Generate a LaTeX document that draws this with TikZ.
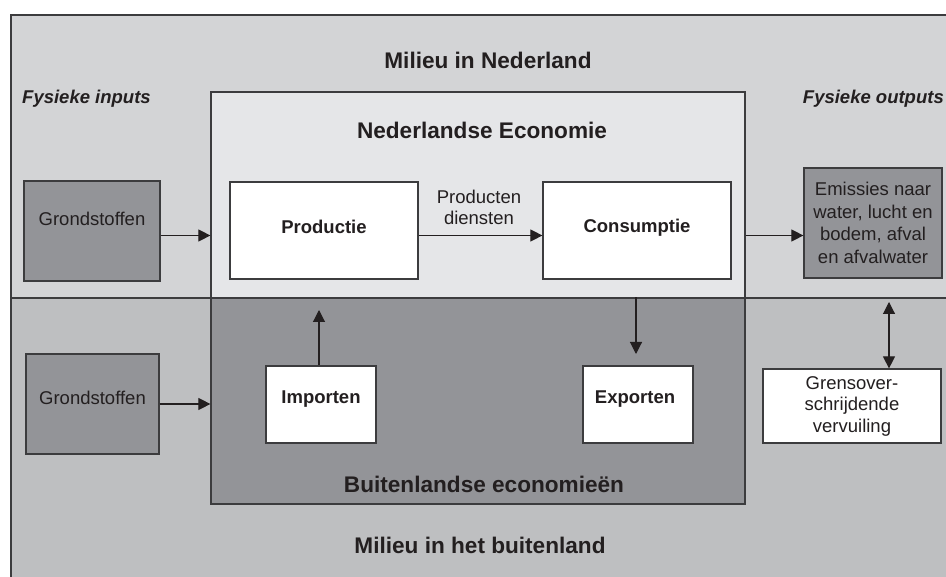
\documentclass[tikz,border=0pt]{standalone}
\usepackage{fontspec}
\setmainfont{Liberation Sans}
\usetikzlibrary{arrows.meta}

\definecolor{envtop}{HTML}{D3D4D6}
\definecolor{envbottom}{HTML}{BEBFC1}
\definecolor{ecolight}{HTML}{E5E6E8}
\definecolor{ecodark}{HTML}{939498}
\definecolor{inkline}{HTML}{3C3C3E}
\definecolor{ink}{HTML}{231F20}

\tikzset{
  title/.style={font=\fontsize{22.6}{24}\selectfont\bfseries, text=ink, anchor=base},
  plain/.style={font=\fontsize{18.5}{21.5}\selectfont, text=ink, align=center, inner sep=0pt},
  heavy/.style={plain, font=\fontsize{18.5}{21.5}\selectfont\bfseries},
  side/.style={plain, font=\fontsize{18.5}{21.5}\selectfont\bfseries\itshape},
  box/.style={draw=inkline, line width=1.2pt, inner sep=0pt},
  darkbox/.style={box, fill=ecodark},
  whitebox/.style={box, fill=white},
  arr/.style={->, draw=ink, line width=1.1pt},
  dbl/.style={<->, draw=ink, line width=1.1pt}
}

\begin{document}
\begin{tikzpicture}[x=1pt, y=-1pt, >={Triangle[length=12pt, width=12pt]}]
  \clip (0,0) rectangle (946,577);
  % the two environments
  \fill[envtop] (11,15) rectangle (960,298);
  \fill[envbottom] (11,298) rectangle (960,590);
  \draw[inkline, line width=1.3pt] (11,590) -- (11,15) -- (960,15);
  \draw[inkline, line width=1.3pt] (11,298) -- (960,298);

  % economies
  \node[box, fill=ecolight, minimum width=534pt, minimum height=206pt] (nlbox) at (478,195) {};
  \node[darkbox, minimum width=534pt, minimum height=206pt] (blbox) at (478,401) {};

  \node[title] (milieunl) at (488,68.3) {Milieu in Nederland};
  \node[title] (econl) at (482,139) {Nederlandse Economie};
  \node[title] (ecobl) at (484,492.7) {Buitenlandse economieën};
  \node[title] (milieubl) at (480,553) {Milieu in het buitenland};
  \node[side, anchor=west] (inputs) at (22,99) {Fysieke inputs};
  \node[side, anchor=east] (outputs) at (944,99) {Fysieke outputs};

  % boxes
  \node[darkbox, minimum width=136pt, minimum height=100pt] (grond1) at (92,231) {};
  \node[plain] (grond1text) at ([yshift=12pt]grond1.center) {Grondstoffen};
  \node[darkbox, minimum width=133pt, minimum height=100pt] (grond2) at (92.5,404) {};
  \node[plain] (grond2text) at ([yshift=6pt]grond2.center) {Grondstoffen};
  \node[whitebox, minimum width=188pt, minimum height=97pt] (prod) at (324,230.5) {};
  \node[heavy] (prodtext) at ([yshift=3.5pt]prod.center) {Productie};
  \node[whitebox, minimum width=188pt, minimum height=97pt] (cons) at (637,230.5) {};
  \node[heavy] (constext) at ([yshift=2.5pt]cons.center) {Consumptie};
  \node[plain] (goods) at (479,207.5) {Producten\\diensten};
  \node[darkbox, minimum width=138pt, minimum height=110pt, plain,
        font=\fontsize{18.5}{22.5}\selectfont] (emis) at (873,223)
    {Emissies naar\\water, lucht en\\bodem, afval\\en afvalwater};
  \node[whitebox, minimum width=110pt, minimum height=77pt] (imp) at (321,404.5) {};
  \node[heavy] (imptext) at ([yshift=5.5pt]imp.center) {Importen};
  \node[whitebox, minimum width=110pt, minimum height=77pt] (exp) at (638,404.5) {};
  \node[heavy] (exptext) at ([yshift=5.5pt, xshift=-3pt]exp.center) {Exporten};
  \node[whitebox, minimum width=178pt, minimum height=74pt, plain] (grens) at (852,406)
    {Grensover-\\schrijdende\\vervuiling};

  % flows
  \coordinate (midrow) at (0,235.5);
  \coordinate (imptip) at (319,310);
  \coordinate (exptip) at (636,354);
  \coordinate (grenstip) at (889,302);
  \draw[arr] (grond1.east |- midrow) -- (nlbox.west |- midrow);
  \draw[arr] (prod.east |- midrow) -- (cons.west |- midrow);
  \draw[arr] (nlbox.east |- midrow) -- (emis.west |- midrow);
  \draw[arr] (grond2.east) -- (grond2.east -| blbox.west);
  \draw[arr] (imp.north -| imptip) -- (imptip);
  \draw[arr] (exptip |- blbox.north) -- (exptip);
  \draw[dbl] (grenstip) -- (grenstip |- grens.north);
\end{tikzpicture}
\end{document}
